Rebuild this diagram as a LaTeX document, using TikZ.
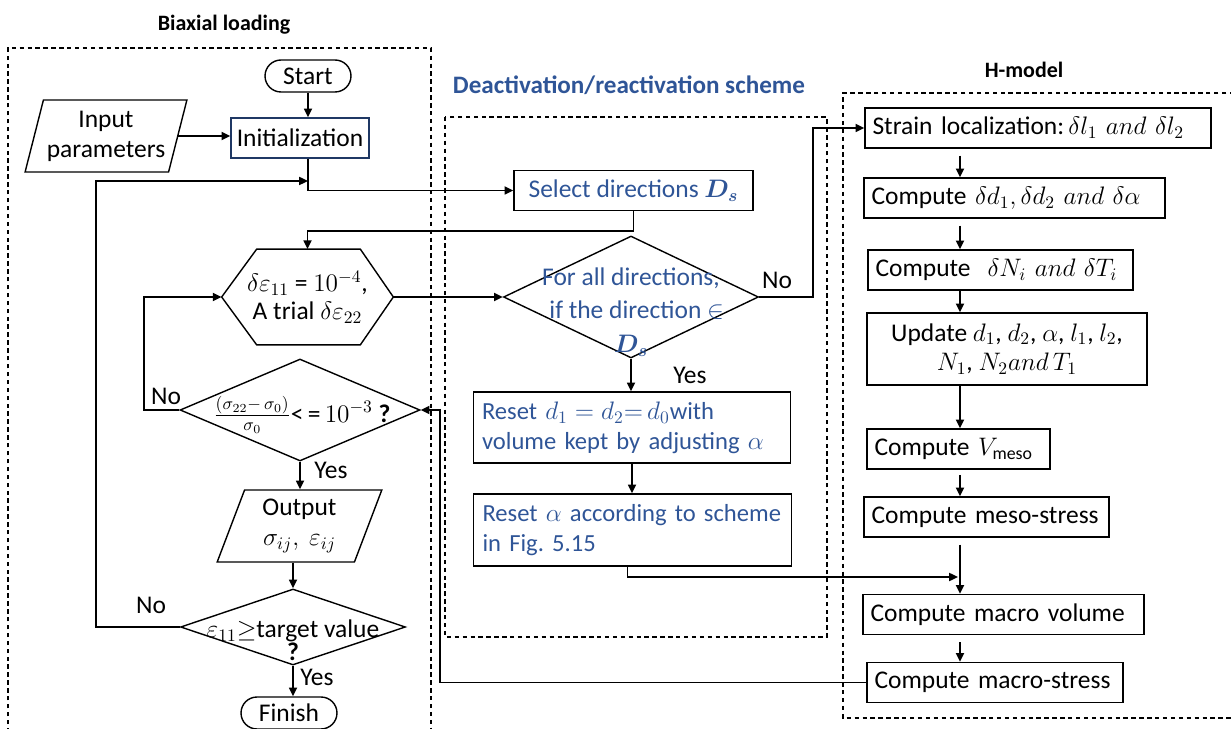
\documentclass[tikz,border=0pt]{standalone}
\usepackage{amsmath,amssymb,bm}
\usepackage{fontspec}
\setmainfont{Carlito}
\usetikzlibrary{positioning,arrows.meta,shapes.geometric,calc}
\definecolor{schemeBlue}{HTML}{2F5597}
\definecolor{initBlue}{HTML}{1F3864}

\begin{document}
\begin{tikzpicture}[
    x=0.02cm, y=-0.02cm,
    font=\fontsize{14.5}{17}\selectfont,
    procBox/.style={rectangle, draw=black, line width=0.8pt, minimum height=0.8cm, inner sep=3pt},
    stepBox/.style={procBox, text width=#1, align=left, inner xsep=0.15cm},
    textBox/.style={rectangle, draw=black, line width=0.8pt, text=schemeBlue, align=left, inner xsep=5pt, font=\fontsize{14}{17}\selectfont},
    termBox/.style={rectangle, rounded corners=0.32cm, draw=black, line width=0.8pt, minimum height=0.64cm},
    ioBox/.style={trapezium, trapezium left angle=71, trapezium right angle=109, trapezium stretches=true, draw=black, line width=0.8pt, align=center, minimum width=3.26cm, minimum height=1.44cm, inner sep=0pt},
    decBox/.style={diamond, draw=black, line width=0.8pt, inner sep=0pt},
    groupFrame/.style={draw=black, line width=0.6pt, dash pattern=on 2.5pt off 2pt},
    groupTitle/.style={font=\fontsize{12.5}{15}\selectfont\bfseries},
    flow/.style={-{Triangle[length=5pt,width=4.5pt]}, line width=1.1pt},
    flowR/.style={-{Triangle[length=5pt,width=4.5pt]}, line width=1.3pt}
]
    \useasboundingbox (0,0) rectangle (1231,729);

    % group frames and titles
    \draw[groupFrame] (8,740) -- (8,48) -- (431,48) -- (431,740);
    \draw[groupFrame] (445,117) rectangle (827,637);
    \draw[groupFrame] (1250,93) -- (843,93) -- (843,718) -- (1250,718);
    \node[groupTitle] (tBiax) at (224,25) {Biaxial loading};
    \node[groupTitle, text=schemeBlue, font=\fontsize{14.3}{16}\selectfont\bfseries] (tDeact) at (629,85) {Deactivation/reactivation scheme};
    \node[groupTitle] (tHmod) at (1024,70) {H-model};

    % biaxial loading
    \node[termBox, minimum width=1.72cm] (start) at (308,76) {Start};
    \node[ioBox] (input) at (106,136) {Input\\parameters};
    \node[procBox, draw=initBlue, minimum width=2.76cm] (init) at (300,138) {Initialization};
    \node[rectangle, minimum width=3.42cm, minimum height=1.9cm, align=center] (hex) at (307.5,297)
        {$\delta\varepsilon_{11}$ = $10^{-4}$,\\[-1pt]A trial $\delta\varepsilon_{22}$};
    \draw[line width=0.8pt] (hex.west) -- ([xshift=0.7cm]hex.north west) -- ([xshift=-0.66cm]hex.north east)
        -- (hex.east) -- ([xshift=-0.66cm]hex.south east) -- ([xshift=0.7cm]hex.south west) -- cycle;
    \node[decBox, minimum width=4.8cm, minimum height=2.04cm] (conv) at (300,410) {};
    \node (convTxt) at (302,415) {$\frac{(\sigma_{22}-\,\sigma_0)}{\sigma_0}${<}\,=\,$10^{-3}$ \textbf{?}};
    \node[ioBox, minimum width=3.3cm] (output) at (299.5,526) {Output\\$\sigma_{ij},\ \varepsilon_{ij}$};
    \node[decBox, minimum width=4.5cm, minimum height=1.52cm] (target) at (293,627) {};
    \node[align=center] (targetTxt) at (293,640) {$\varepsilon_{11}{\geq}$target value\\[-4pt]\textbf{?}};
    \node[termBox, minimum width=1.92cm] (finish) at (289,713) {Finish};

    % deactivation/reactivation scheme
    \node[procBox, text=schemeBlue, minimum width=4.78cm] (select) at (633.5,190.5) {Select directions $\bm{D_s}$};
    \node[decBox, minimum width=5.1cm, minimum height=2.44cm] (dirs) at (631,297) {};
    \node[align=center, text=schemeBlue, font=\fontsize{14.5}{19}\selectfont] (dirsTxt) at (631,312)
        {For all directions,\\\ \ if the direction $\in$\\$\bm{D_s}$};
    \node[textBox, text width=6.0cm, minimum height=1.42cm] (reset1) at (632,427.5)
        {Reset $d_1=d_2{=}\,d_0$with\\volume kept by adjusting $\alpha$};
    \node[textBox, text width=6.0cm, minimum height=1.44cm] (reset2) at (632.5,530)
        {Reset $\alpha$ according to scheme\\in Fig.\ 5.15};

    % H-model
    \node[stepBox=6.62cm] (strain) at (1038,128) {Strain localization:\,$\delta l_1\ and\ \delta l_2$};
    \node[stepBox=5.72cm] (dd) at (1014.5,198) {Compute $\delta d_1, \delta d_2\ and\ \delta\alpha$};
    \node[stepBox=5.0cm] (dN) at (1000.5,270) {Compute\ \ $\delta N_i\ and\ \delta T_i$};
    \node[procBox, align=center, minimum width=5.6cm, minimum height=1.44cm] (update) at (1007,349)
        {Update $d_1$, $d_2$, $\alpha$, $l_1$, $l_2$,\\$N_1$, $N_2 and\,T_1$};
    \node[stepBox=3.36cm] (vmeso) at (958.5,449) {Compute $V_{\mathrm{meso}}$};
    \node[stepBox=4.6cm] (meso) at (986.5,517) {\mbox{Compute meso-stress}};
    \node[stepBox=5.32cm] (macroV) at (1003.5,614.5) {Compute macro volume};
    \node[stepBox=4.82cm] (macroS) at (995,682.5) {\mbox{Compute macro-stress}};

    \coordinate (loopL) at (96,181);
    \coordinate (loopIn) at (308,181);
    \coordinate (colR) at (960,0);
    \coordinate (joinPt) at (958,577);
    \coordinate (backCol) at (440,0);

    % connectors
    \draw[flow] (start.south) -- (start.south |- init.north);
    \draw[flow] (input.east) -- (input.east -| init.west);
    \draw[flow] (start.south |- init.south) |- (select.west);
    \draw[flow] (target.west) -| (loopL) -- (loopIn);
    \draw[flow] (select.south) -- ++(0,19.5) -| (hex.north);
    \draw[flow] (hex.east) -- (dirs.west);
    \draw[flow] (conv.west) -- ++(-35,0) |- (hex.west);
    \draw[flow] (conv.south) -- (conv.south |- output.north);
    \draw[flow] (target.north |- output.south) -- (target.north);
    \draw[flow] (target.south) -- (target.south |- finish.north);
    \draw[flow] (dirs.east) -- ++(54,0) |- (strain.west);
    \draw[flow] (dirs.south) -- (dirs.south |- reset1.north);
    \draw[flow] (reset1.south) -- (reset1.south |- reset2.north);
    \draw[flow] ([xshift=-0.1cm]reset2.south) |- (joinPt);
    \draw[flowR] ([yshift=-4pt]strain.south -| colR) -- (dd.north -| colR);
    \draw[flowR] ([yshift=-4pt]dd.south -| colR) -- (dN.north -| colR);
    \draw[flowR] (dN.south -| colR) -- (update.north -| colR);
    \draw[flowR] (update.south -| colR) -- (vmeso.north -| colR);
    \draw[flowR] ([yshift=-3pt]vmeso.south -| colR) -- (meso.north -| colR);
    \draw[flowR] ([yshift=-4pt]meso.south -| colR) -- (macroV.north -| colR);
    \draw[flowR] ([yshift=-4pt]macroV.south -| colR) -- (macroS.north -| colR);
    \draw[flow] (macroS.west) -| (backCol |- conv.east) -- (conv.east);

    % branch labels
    \node (noConv) at (166,396) {No};
    \node (yesConv) at (331,470) {Yes};
    \node (noTarget) at (151,605) {No};
    \node (yesTarget) at (317,677) {Yes};
    \node (noDirs) at (777,280) {No};
    \node (yesDirs) at (690,375) {Yes};
\end{tikzpicture}
\end{document}
